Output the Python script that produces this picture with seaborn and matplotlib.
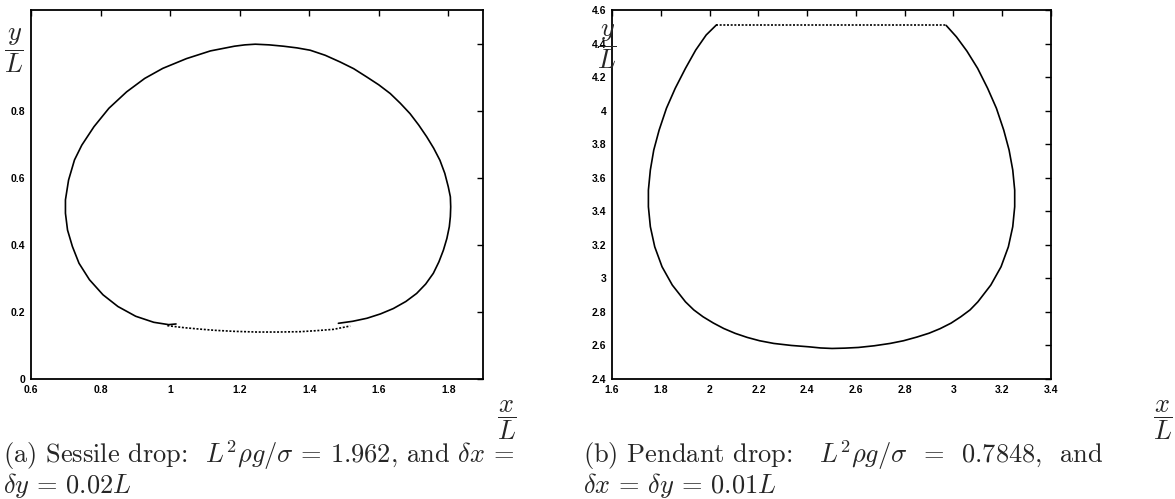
import numpy as np
import pandas as pd
import matplotlib
matplotlib.use("Agg")
import matplotlib.pyplot as plt
import seaborn as sns

sns.set_theme(style="white")
plt.rcParams['font.family'] = ['Liberation Sans', 'DejaVu Sans']
plt.rcParams['mathtext.fontset'] = 'cm'

# (a) sessile drop outline, solid part (right bottom -> right side -> top -> left side)
sessile_x = [1.484, 1.525, 1.566, 1.605, 1.642, 1.678, 1.709, 1.735, 1.757, 1.773,
             1.786, 1.796, 1.803, 1.806, 1.807, 1.806, 1.800, 1.790, 1.776, 1.758,
             1.738, 1.715, 1.690, 1.662, 1.633, 1.600, 1.566, 1.528, 1.489, 1.446,
             1.403, 1.365, 1.326, 1.285, 1.245, 1.215, 1.185, 1.116, 1.047, 0.979,
             0.927, 0.875, 0.824, 0.781, 0.746, 0.725, 0.708, 0.699, 0.699, 0.705,
             0.719, 0.738, 0.768, 0.807, 0.850, 0.901, 0.953, 0.996, 1.017]
sessile_y = [0.166, 0.172, 0.181, 0.194, 0.210, 0.231, 0.255, 0.283, 0.315, 0.349,
             0.384, 0.419, 0.454, 0.484, 0.513, 0.543, 0.573, 0.613, 0.652, 0.688,
             0.722, 0.757, 0.791, 0.822, 0.851, 0.877, 0.900, 0.925, 0.945, 0.965,
             0.980, 0.987, 0.992, 0.996, 0.998, 0.996, 0.992, 0.978, 0.955, 0.926,
             0.896, 0.856, 0.807, 0.752, 0.697, 0.653, 0.593, 0.534, 0.494, 0.444,
             0.395, 0.345, 0.296, 0.251, 0.216, 0.187, 0.169, 0.162, 0.164]
# dashed bottom of the sessile drop
sessile_base_x = [0.992, 1.040, 1.082, 1.130, 1.185, 1.250, 1.310, 1.374, 1.420, 1.470, 1.518]
sessile_base_y = [0.159, 0.153, 0.149, 0.145, 0.142, 0.140, 0.140, 0.141, 0.144, 0.148, 0.158]

# (b) pendant drop outline, solid part (top-left corner -> bottom -> top-right corner)
pendant_x = [2.028, 1.986, 1.943, 1.901, 1.859, 1.823, 1.793, 1.771, 1.757, 1.749,
             1.749, 1.757, 1.775, 1.805, 1.847, 1.901, 1.935, 1.973, 2.015, 2.058,
             2.105, 2.154, 2.205, 2.263, 2.335, 2.406, 2.455, 2.502, 2.555, 2.610,
             2.675, 2.740, 2.795, 2.850, 2.900, 2.945, 2.990, 3.030, 3.068, 3.100,
             3.153, 3.195, 3.225, 3.243, 3.251, 3.251, 3.243, 3.228, 3.206, 3.176,
             3.140, 3.099, 3.055, 3.012, 2.970]
pendant_y = [4.511, 4.451, 4.361, 4.252, 4.133, 4.014, 3.884, 3.765, 3.646, 3.526,
             3.427, 3.308, 3.188, 3.069, 2.960, 2.860, 2.812, 2.771, 2.734, 2.701,
             2.672, 2.648, 2.628, 2.612, 2.600, 2.592, 2.585, 2.582, 2.584, 2.588,
             2.598, 2.612, 2.628, 2.650, 2.673, 2.700, 2.733, 2.771, 2.812, 2.860,
             2.960, 3.069, 3.188, 3.308, 3.427, 3.526, 3.646, 3.765, 3.884, 4.014,
             4.133, 4.252, 4.355, 4.440, 4.508]
# dashed top (contact line)
pendant_top_x = [2.028, 2.970]
pendant_top_y = [4.509, 4.509]

xticks_a = [0.6, 0.8, 1.0, 1.2, 1.4, 1.6, 1.8]
xlabels_a = ['0.6', '0.8', '1', '1.2', '1.4', '1.6', '1.8']
yticks_a = [0, 0.2, 0.4, 0.6, 0.8, 1.0]
ylabels_a = ['0', '0.2', '0.4', '0.6', '0.8', '']
xticks_b = [1.6, 1.8, 2.0, 2.2, 2.4, 2.6, 2.8, 3.0, 3.2, 3.4]
xlabels_b = ['1.6', '1.8', '2', '2.2', '2.4', '2.6', '2.8', '3', '3.2', '3.4']
yticks_b = [2.4, 2.6, 2.8, 3.0, 3.2, 3.4, 3.6, 3.8, 4.0, 4.2, 4.4, 4.6]
ylabels_b = ['2.4', '2.6', '2.8', '3', '3.2', '3.4', '3.6', '3.8', '4', '4.2', '4.4', '4.6']

fig = plt.figure(figsize=(11.75, 4.99), dpi=100)
ax1 = fig.add_axes([0.0264, 0.2405, 0.3847, 0.7395])
ax2 = fig.add_axes([0.5209, 0.2405, 0.3736, 0.7395])


def draw(ax, x, y, ls):
    df = pd.DataFrame({'x': x, 'y': y})
    sns.lineplot(data=df, x='x', y='y', sort=False, estimator=None, ax=ax,
                 color='black', lw=1.2, linestyle=ls)


draw(ax1, sessile_x, sessile_y, '-')
draw(ax1, sessile_base_x, sessile_base_y, (0, (1.2, 1.0)))
draw(ax2, pendant_x, pendant_y, '-')
draw(ax2, pendant_top_x, pendant_top_y, (0, (1.2, 1.0)))

for ax, xt, xl, yt, yl, xlim, ylim in [
        (ax1, xticks_a, xlabels_a, yticks_a, ylabels_a, (0.6, 1.9), (0, 1.1)),
        (ax2, xticks_b, xlabels_b, yticks_b, ylabels_b, (1.6, 3.4), (2.4, 4.6))]:
    ax.set_xlim(*xlim)
    ax.set_ylim(*ylim)
    ax.set_xticks(xt)
    ax.set_xticklabels(xl)
    ax.set_yticks(yt)
    ax.set_yticklabels(yl)
    ax.set_xlabel('')
    ax.set_ylabel('')
    ax.tick_params(direction='in', length=4, width=1.0, top=True, right=True,
                   labelsize=7.5, pad=4, colors='black')
    for lab in ax.get_xticklabels() + ax.get_yticklabels():
        lab.set_fontweight('bold')
    for s in ax.spines.values():
        s.set_color('black')
        s.set_linewidth(1.3)

# axis labels as fractions (display style so x, y and L keep full size)
frac = dict(fontsize=19, ha='center', va='center')
fig.text(14 / 1175, 1 - 51 / 499, r'$\dfrac{y}{L}$', **frac)
fig.text(607 / 1175, 1 - 47 / 499, r'$\dfrac{y}{L}$', **frac)
fig.text(507 / 1175, 1 - 420 / 499, r'$\dfrac{x}{L}$', **frac)
fig.text(1163 / 1175, 1 - 420 / 499, r'$\dfrac{x}{L}$', **frac)

cap = dict(fontsize=19, family='cmr10', ha='left', va='center')
fig.text(3 / 1175, 1 - 455 / 499,
         r'(a) Sessile drop:  $L^2\rho g/\sigma$ = 1.962, and $\delta x$ =', **cap)
fig.text(3 / 1175, 1 - 486 / 499, r'$\delta y$ = 0.02$L$', **cap)
fig.text(583 / 1175, 1 - 455 / 499,
         r'(b) Pendant drop:   $L^2\rho g/\sigma$  =  0.7848,  and', **cap)
fig.text(583 / 1175, 1 - 486 / 499, r'$\delta x$ = $\delta y$ = 0.01$L$', **cap)

fig.savefig('out.png', dpi=100)
